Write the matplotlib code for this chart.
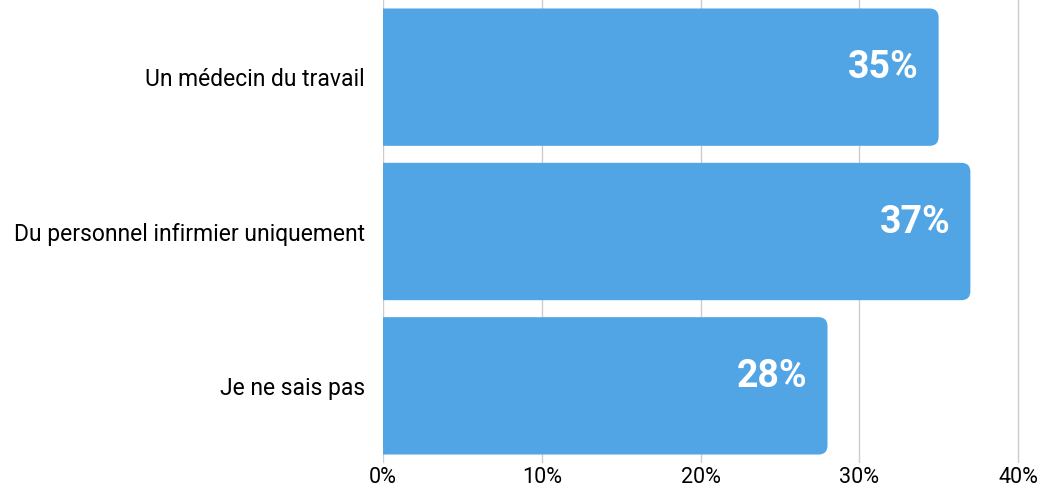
import matplotlib.pyplot as plt
from matplotlib.patches import PathPatch
from matplotlib.path import Path

categories = ['Un médecin du travail', 'Du personnel infirmier uniquement', 'Je ne sais pas']
values = [35, 37, 28]
xticks = [0, 10, 20, 30, 40]

plt.rcParams['font.family'] = ['Roboto', 'DejaVu Sans']

W, H = 1044, 488
fig = plt.figure(figsize=(W / 100, H / 100), dpi=100)
ax = fig.add_axes([383 / W, (H - 463) / H, (1020 - 383) / W, 463 / H])

bar_color = '#51a5e5'
bar_h = 0.89
xmax = 40 * (1020 - 383) / (1018 - 383)
ax.set_xlim(0, xmax)
ax.set_ylim(2.5, -0.5)

# rounded right end, radius given in pixels
px_x = 40 / (1018 - 383)
px_y = 3 / 463
r = 9
rx, ry = r * px_x, r * px_y


def right_rounded_bar(v, y0, y1):
    verts = [(0, y0), (v - rx, y0), (v, y0), (v, y0 + ry), (v, y1 - ry),
             (v, y1), (v - rx, y1), (0, y1), (0, y0)]
    codes = [Path.MOVETO, Path.LINETO, Path.CURVE3, Path.CURVE3, Path.LINETO,
             Path.CURVE3, Path.CURVE3, Path.LINETO, Path.CLOSEPOLY]
    return Path(verts, codes)


for i, v in enumerate(values):
    y0 = i - bar_h / 2
    ax.add_patch(PathPatch(right_rounded_bar(v, y0, y0 + bar_h),
                           facecolor=bar_color, edgecolor='none', zorder=3))
    ax.text(v - 20 * px_x, i - 0.06, '%d%%' % v, ha='right', va='center',
            color='white', fontsize=27, fontweight='bold', zorder=4)

ax.set_yticks(range(len(categories)))
ax.set_yticklabels(categories, fontsize=16.5)
ax.set_xticks(xticks)
ax.set_xticklabels(['%d%%' % t for t in xticks], fontsize=15.5)
ax.tick_params(length=0)
ax.tick_params(axis='y', pad=13)
ax.tick_params(axis='x', pad=3)
ax.grid(axis='x', color='#cccccc', linewidth=1, zorder=0)
for s in ax.spines.values():
    s.set_visible(False)

fig.savefig('out.png', dpi=100)
